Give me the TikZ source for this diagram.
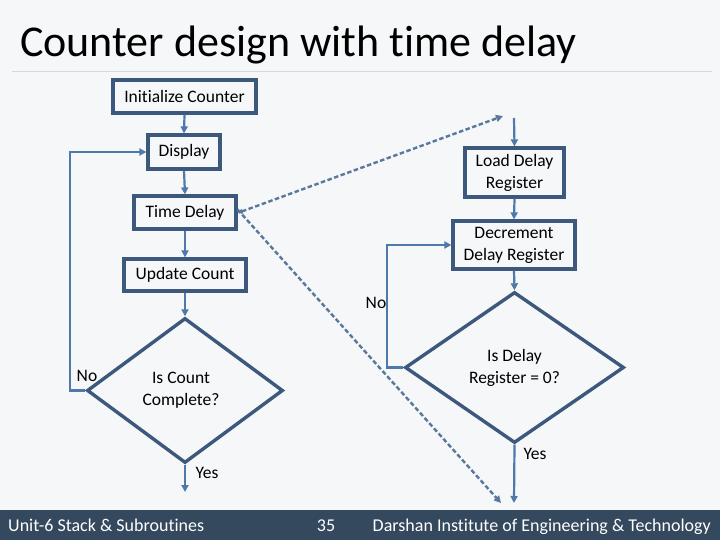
\documentclass[tikz,border=0pt]{standalone}
\usepackage{fontspec}
\setmainfont{Carlito}[RawFeature=-liga]
\usetikzlibrary{arrows.meta,shapes.geometric}
\definecolor{bgc}{RGB}{245,247,248}
\definecolor{boxc}{RGB}{60,88,125}
\definecolor{linec}{RGB}{79,121,171}
\definecolor{dashc}{RGB}{90,120,155}
\definecolor{footc}{RGB}{52,72,94}
\definecolor{rulec}{RGB}{214,218,222}
\tikzset{
  pbox/.style={draw=boxc, line width=3.2pt, inner sep=0pt, align=center, font=\fontsize{17.5}{22}\selectfont},
  dbox/.style={draw=boxc, line width=3.4pt, diamond, inner sep=0pt, align=center, font=\fontsize{17.5}{22}\selectfont},
  conn/.style={draw=linec, line width=2.2pt, -{Triangle[length=7pt,width=7pt]}},
  dconn/.style={draw=dashc, line width=2.4pt, dash pattern=on 4.5pt off 2.5pt, -{Triangle[length=7pt,width=7pt]}},
  lbl/.style={font=\fontsize{17.5}{20}\selectfont, inner sep=0pt},
  foot/.style={text=white, font=\fontsize{18}{21}\selectfont, inner sep=0pt}
}
\begin{document}
\begin{tikzpicture}[x=1pt,y=-1pt]
\fill[bgc] (0,0) rectangle (720,540);
\useasboundingbox (0,0) rectangle (720,540);
% title
\node[anchor=base west, inner sep=0pt, font=\fontsize{44}{52}\selectfont] (title) at (20,57) {Counter design with time delay};
\draw[rulec, line width=1pt] (12,72) coordinate (r1) -- (712,72) coordinate (r2);
% footer
\fill[footc] (0,510) rectangle (720,540);
\node[foot, anchor=base west] (f1) at (8,531) {Unit-6 Stack \& Subroutines};
\node[foot, anchor=base] (f2) at (326,531) {35};
\node[foot, anchor=base east] (f3) at (711,531) {Darshan Institute of Engineering \& Technology};
% left column
\node[pbox, minimum width=143pt, minimum height=33pt] (init) at (184.5,96.5) {Initialize Counter};
\node[pbox, minimum width=72pt, minimum height=34pt] (disp) at (184,152) {Display};
\node[pbox, minimum width=102pt, minimum height=33pt] (td) at (185,212.5) {Time Delay};
\node[pbox, minimum width=122pt, minimum height=32pt] (uc) at (185,275) {Update Count};
\node[dbox, minimum width=196pt, minimum height=145pt] (d1) at (185,390.5) {\hspace*{-8pt}Is Count\\\hspace*{-8pt}Complete?};
\coordinate (y1) at (185,492);
\coordinate (n1) at (70,390.5);
% right column
\node[pbox, minimum width=99pt, minimum height=49pt] (load) at (514.5,172.5) {Load Delay\\Register};
\node[pbox, minimum width=122pt, minimum height=48pt] (dec) at (514,245) {Decrement\\Delay Register};
\node[dbox, minimum width=219pt, minimum height=151pt] (d2) at (514.5,367.5) {Is Delay\\Register = 0?};
\coordinate (s2) at (514,118);
\coordinate (y2) at (514,503);
\coordinate (n2) at (387,367.5);
% dashed targets
\coordinate (dt1) at (503,116);
\coordinate (dt2) at (501,503);
% connectors
\draw[conn] (init.south) -- (disp.north);
\draw[conn] (disp.south) -- (td.north);
\draw[conn] (td.south) -- (uc.north);
\draw[conn] (uc.south) -- (d1.north);
\draw[conn] (d1.south) -- (y1);
\draw[conn] (d1.west) -- (n1) |- (disp.west);
\draw[conn] (s2) -- (load.north);
\draw[conn] (load.south) -- (dec.north);
\draw[conn] (dec.south) -- (d2.north);
\draw[conn] (d2.south) -- (y2);
\draw[conn] (d2.west) -- (n2) |- (dec.west);
\draw[dconn, {Triangle[length=5pt,width=5pt]}-{Triangle[length=7pt,width=7pt]}] ([yshift=-0.5pt]td.east) -- (dt1);
\draw[dconn] ([yshift=3pt]td.east) -- (dt2);
% labels
\node[lbl] (no1) at (87,376) {No};
\node[lbl] (yes1) at (207,473) {Yes};
\node[lbl] (no2) at (376,303) {No};
\node[lbl] (yes2) at (535,454) {Yes};
\end{tikzpicture}
\end{document}
